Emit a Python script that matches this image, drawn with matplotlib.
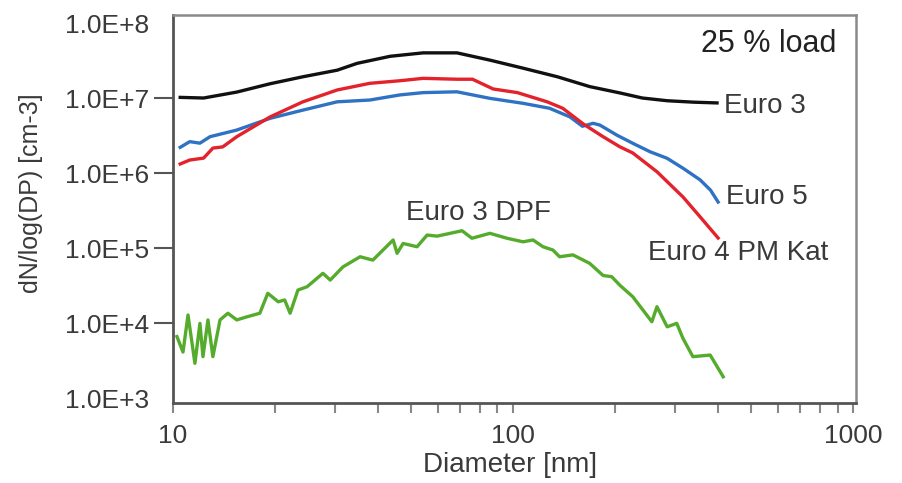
import math
import matplotlib
matplotlib.use("Agg")
import matplotlib.pyplot as plt
from matplotlib.ticker import FixedLocator, LogLocator, NullFormatter, FuncFormatter

plt.rcParams['font.family'] = ['Liberation Sans', 'DejaVu Sans']

# Euro 3 (black)
d_euro3 = [10.5, 12.3, 15.4, 19.3, 24.1, 30.4, 34.8, 43.5, 54.4, 68.4, 85.5,
           107, 135, 168, 206, 240, 284, 340, 398]
n_euro3 = [1.02e7, 1.0e7, 1.2e7, 1.55e7, 1.92e7, 2.35e7, 2.9e7, 3.6e7, 4.0e7,
           4.0e7, 3.2e7, 2.5e7, 1.92e7, 1.42e7, 1.17e7, 1.0e7, 9.2e6, 8.8e6, 8.6e6]

# Euro 5 (blue)
d_euro5 = [10.5, 11.2, 12.0, 12.85, 15.4, 19.3, 24.1, 30.4, 37.9, 46.5, 54.4,
           68.4, 85.5, 107, 128, 147, 160, 172, 180, 202, 225, 253, 284, 316,
           355, 381, 401]
n_euro5 = [2.2e6, 2.62e6, 2.5e6, 3.05e6, 3.74e6, 5.36e6, 6.9e6, 8.9e6, 9.4e6,
           1.1e7, 1.18e7, 1.21e7, 9.9e6, 8.5e6, 7.3e6, 5.6e6, 4.2e6, 4.6e6,
           4.36e6, 3.2e6, 2.49e6, 1.92e6, 1.57e6, 1.16e6, 8.1e5, 5.9e5, 4.1e5]

# Euro 4 PM Kat (red)
d_euro4 = [10.5, 11.2, 12.3, 13.1, 14.0, 15.4, 19.3, 24.1, 30.4, 37.9, 46.5,
           54.4, 68.4, 76, 87.4, 103, 126, 140, 161, 184, 206, 225, 265, 316,
           355, 401]
n_euro4 = [1.32e6, 1.49e6, 1.58e6, 2.15e6, 2.23e6, 3.05e6, 5.6e6, 8.9e6, 1.28e7,
           1.57e7, 1.70e7, 1.83e7, 1.78e7, 1.78e7, 1.32e7, 1.18e7, 8.9e6, 7.3e6,
           4.5e6, 3.05e6, 2.24e6, 1.85e6, 1.04e6, 4.8e5, 2.6e5, 1.36e5]

# Euro 3 DPF (green)
d_dpf = [10.27, 10.7, 11.07, 11.6, 12.0, 12.25, 12.67, 13.1, 13.75, 14.5, 15.4,
         16.5, 18.0, 19.0, 20.4, 21.3, 22.1, 23.3, 24.8, 27.6, 29.0, 31.6, 35.5,
         38.7, 44.4, 45.6, 47.5, 52.2, 55.9, 59.8, 65.3, 70.8, 75.7, 85.5, 96,
         107, 114.5, 122.5, 131, 137, 150, 168, 184, 195, 206, 225, 241, 256,
         265, 284, 303, 316, 338, 380, 415]
n_dpf = [6.6e3, 4.1e3, 1.28e4, 2.9e3, 9.9e3, 3.56e3, 1.1e4, 3.56e3, 1.1e4,
         1.35e4, 1.1e4, 1.21e4, 1.35e4, 2.49e4, 1.92e4, 2.03e4, 1.35e4, 2.75e4,
         3.05e4, 4.6e4, 3.74e4, 5.6e4, 7.65e4, 6.9e4, 1.28e5, 8.5e4, 1.15e5,
         1.04e5, 1.49e5, 1.44e5, 1.57e5, 1.7e5, 1.35e5, 1.57e5, 1.35e5, 1.21e5,
         1.28e5, 1.04e5, 9.4e4, 7.65e4, 8.1e4, 6.25e4, 4.3e4, 4.15e4, 3.2e4,
         2.24e4, 1.49e4, 1.04e4, 1.65e4, 8.9e3, 9.9e3, 6.25e3, 3.56e3, 3.74e3,
         1.92e3]

y_ticks = [1e3, 1e4, 1e5, 1e6, 1e7, 1e8]
x_ticks = [10, 100, 1000]

fig = plt.figure(figsize=(9.02, 4.83), dpi=100)
ax = fig.add_axes([0.1918, 0.1656, 0.7572, 0.8034])

ax.plot(d_euro3, n_euro3, color='#111111', lw=2.4)
ax.plot(d_euro5, n_euro5, color='#2f72c4', lw=2.4)
ax.plot(d_euro4, n_euro4, color='#e3222b', lw=2.4)
ax.plot(d_dpf, n_dpf, color='#55ac2c', lw=2.4)

ax.set_xscale('log')
ax.set_yscale('log')
ax.set_xlim(10, 1020)
ax.set_ylim(858, 1.28e8)

txt = '#3a3a3a'
ax.yaxis.set_major_locator(FixedLocator(y_ticks))
ax.yaxis.set_minor_locator(FixedLocator([]))
ax.yaxis.set_major_formatter(FuncFormatter(lambda v, p: '1.0E+%d' % round(math.log10(v))))
ax.xaxis.set_major_locator(FixedLocator(x_ticks))
ax.xaxis.set_minor_locator(LogLocator(base=10, subs=range(2, 10)))
ax.xaxis.set_minor_formatter(NullFormatter())
ax.xaxis.set_major_formatter(FuncFormatter(lambda v, p: '%d' % v))

ax.tick_params(axis='y', which='major', direction='out', length=14, width=1.5,
               color='#555555', labelsize=19, labelcolor=txt, pad=3)
ax.tick_params(axis='x', which='both', direction='out', length=7, width=1.5,
               color='#888888', labelsize=19, labelcolor=txt, pad=8)
for t in (ax.yaxis.get_major_ticks()[0], ax.yaxis.get_major_ticks()[-1]):
    t.tick1line.set_visible(False)

for side in ('left', 'bottom'):
    ax.spines[side].set_color('#555555')
    ax.spines[side].set_linewidth(2)
for side in ('top', 'right'):
    ax.spines[side].set_color('#8a8a8a')
    ax.spines[side].set_linewidth(1.8)

ax.set_xlabel('Diameter [nm]', fontsize=20, color=txt)
ax.set_ylabel('dN/log(DP) [cm-3]', fontsize=18, color=txt)
ax.xaxis.set_label_coords(0.493, -0.125)
ax.yaxis.set_label_coords(-0.19, 0.54)

ax.text(0.972, 0.925, '25 % load', transform=ax.transAxes, ha='right', va='center',
        fontsize=22, color='#222222')
ax.annotate('Euro 3', xy=(d_euro3[-1], n_euro3[-1]), xytext=(5, -2),
            textcoords='offset points', va='center', fontsize=20, color=txt)
ax.annotate('Euro 5', xy=(d_euro5[-1], n_euro5[-1]), xytext=(6, 4),
            textcoords='offset points', va='center', fontsize=20, color=txt)
ax.text(250, 8.6e4, 'Euro 4 PM Kat', ha='left', va='center', fontsize=20, color=txt)
ax.text(79, 2.93e5, 'Euro 3 DPF', ha='center', va='center', fontsize=20, color=txt)

fig.savefig('out.png', dpi=100)
